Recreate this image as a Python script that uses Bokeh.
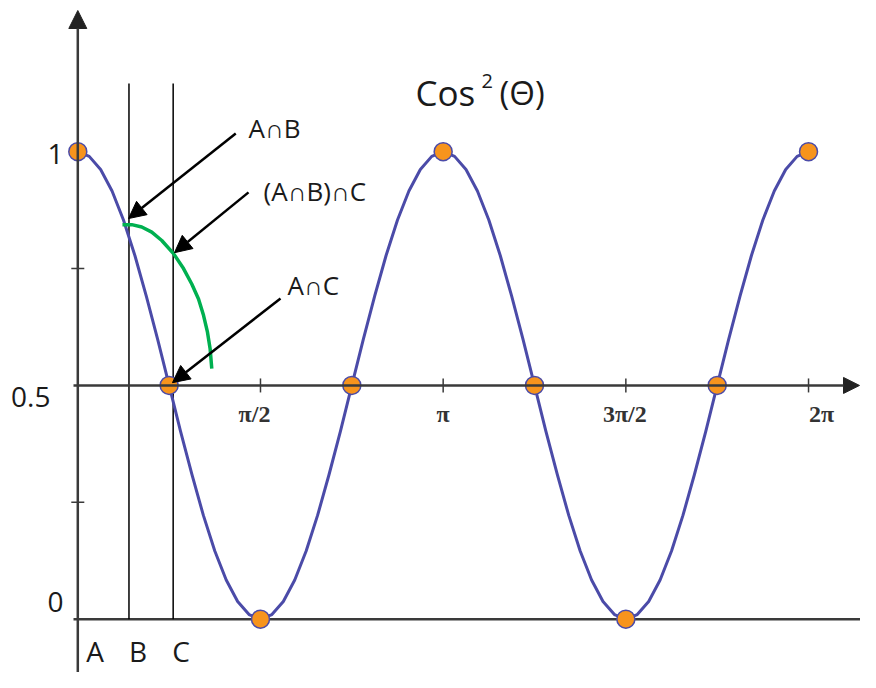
import numpy as np
from bokeh.plotting import figure
from bokeh.models import Arrow, NormalHead, Range1d, ColumnDataSource
from bokeh.core.properties import value
from bokeh.embed import file_html
from bokeh.resources import INLINE

# ---------------- data ----------------
# cos^2(theta) curve, values read at steps of pi/32 from 0 to 2*pi
curve_steps = list(range(65))
curve_vals = [1.000, 0.990, 0.962, 0.916, 0.854, 0.778, 0.691, 0.598, 0.500,
              0.402, 0.309, 0.222, 0.146, 0.084, 0.038, 0.010, 0.000,
              0.010, 0.038, 0.084, 0.146, 0.222, 0.309, 0.402, 0.500,
              0.598, 0.691, 0.778, 0.854, 0.916, 0.962, 0.990, 1.000,
              0.990, 0.962, 0.916, 0.854, 0.778, 0.691, 0.598, 0.500,
              0.402, 0.309, 0.222, 0.146, 0.084, 0.038, 0.010, 0.000,
              0.010, 0.038, 0.084, 0.146, 0.222, 0.309, 0.402, 0.500,
              0.598, 0.691, 0.778, 0.854, 0.916, 0.962, 0.990, 1.000]

# highlighted points at multiples of pi/4
key_steps = [0, 1, 2, 3, 4, 5, 6, 7, 8]
key_vals = [1.0, 0.5, 0.0, 0.5, 1.0, 0.5, 0.0, 0.5, 1.0]

# polarizer angles A, B, C (radians)
line_names = ["A", "B", "C"]
line_angles = [0.0, 0.44, 0.82]
line_label_x = [0.148, 0.518, 0.887]

# green arc (A∩B)∩C
arc_x = [0.384, 0.464, 0.550, 0.636, 0.722, 0.823, 0.909, 0.980, 1.038,
         1.081, 1.115, 1.138, 1.152]
arc_y = [0.844, 0.844, 0.839, 0.828, 0.810, 0.782, 0.750, 0.717, 0.685,
         0.650, 0.614, 0.578, 0.536]

# callouts
ann_labels = ["A∩B", "(A∩B)∩C", "A∩C"]
ann_target_x = [0.436, 0.831, 0.814]
ann_target_y = [0.857, 0.784, 0.506]
ann_start_x = [1.358, 1.468, 1.743]
ann_start_y = [1.039, 0.913, 0.686]
ann_text_x = [1.468, 1.597, 1.803]
ann_text_y = [1.050, 0.917, 0.714]

# x tick labels
xtick_labels = ["π/2", "π", "3π/2", "2π"]
xtick_steps = [2, 4, 6, 8]
xtick_dx = [-6, 0, -1, 13]

# y tick labels
ytick_labels = ["1", "0.5", "0"]
ytick_vals = [1.0, 0.5, 0.0]
ytick_label_y = [0.996, 0.476, 0.036]
ytick_label_x = [-0.123, -0.235, -0.123]
yminor_vals = [0.25, 0.75]

title_parts = ["Cos", "2", "(Θ)"]

# ---------------- layout ----------------
W, H = 860, 672
PX0, PXR = 77.3, 116.3      # pixel of theta=0, pixels per radian
PY0, PYU = 618.7, 467.5     # pixel of y=0, pixels per unit

def fx(px):
    return (px - PX0) / PXR

def fy(py):
    return (PY0 - py) / PYU

x_range = Range1d(fx(0), fx(W))
y_range = Range1d(fy(H), fy(0))

p = figure(width=W, height=H, x_range=x_range, y_range=y_range,
           output_backend="svg", toolbar_location=None, min_border=0,
           x_axis_location=None, y_axis_location=None)
p.grid.visible = False
p.outline_line_color = None
p.background_fill_color = "white"
p.border_fill_color = "white"

step = np.pi / 32
theta = np.array(curve_steps) * step
key_theta = np.array(key_steps) * np.pi / 4
xtick_theta = np.array(xtick_steps) * np.pi / 4

AX = "#3a3a3a"
BLUE = "#4b4ba8"
ORANGE = "#f7941d"
GREEN = "#00b050"

# bottom line (y = 0)
p.segment(x0=[fx(73)], y0=[0], x1=[fx(W)], y1=[0], line_color=AX, line_width=2.5)

# vertical lines B and C
p.segment(x0=line_angles[1:], y0=[0, 0], x1=line_angles[1:], y1=[fy(83)] * 2,
          line_color="black", line_width=1.5)

# axes with arrows
p.add_layout(Arrow(x_start=fx(73), y_start=0.5, x_end=fx(W - 1), y_end=0.5,
                   line_color=AX, line_width=2.5,
                   end=NormalHead(size=16, fill_color="#222", line_color="#222")))
p.add_layout(Arrow(x_start=0, y_start=fy(H), x_end=0, y_end=fy(10),
                   line_color=AX, line_width=2.5,
                   end=NormalHead(size=18, fill_color="#222", line_color="#222")))

# tick marks
p.scatter(x=xtick_theta, y=[0.5] * len(xtick_theta), marker="dash", angle=np.pi / 2,
          size=14, line_color=AX, line_width=1.5)
p.scatter(x=[0.0] * len(yminor_vals), y=yminor_vals, marker="dash",
          size=13, line_color=AX, line_width=1.5)

# curve
p.line(theta, curve_vals, line_color=BLUE, line_width=3, line_join="round")

# green arc
p.line(arc_x, arc_y, line_color=GREEN, line_width=3.5, line_join="round")

# callout arrows
src = ColumnDataSource(dict(xs=ann_start_x, ys=ann_start_y, xe=ann_target_x, ye=ann_target_y))
p.add_layout(Arrow(source=src, x_start="xs", y_start="ys", x_end="xe", y_end="ye",
                   line_color="black", line_width=2.5,
                   end=NormalHead(size=17, fill_color="black", line_color="black")))

# key points
p.scatter(key_theta, key_vals, size=18, fill_color=ORANGE, line_color=BLUE, line_width=1.5)

TXT = "#1a1a1a"
FONT = value("Open Sans")

p.text(x=ann_text_x, y=ann_text_y, text=ann_labels, text_font=FONT,
       text_font_size="26px", text_baseline="middle", text_align="left", text_color=TXT)

# title "Cos² (Θ)" with a real superscript
p.text(x=[fx(415), fx(481), fx(499)], y=[fy(92), fy(80), fy(92)], text=title_parts,
       text_font=FONT, text_font_size=["35px", "20px", "33px"],
       text_baseline="middle", text_align="left", text_color=TXT)

p.text(x=ytick_label_x, y=ytick_label_y, text=ytick_labels, text_font=FONT,
       text_font_size="28px", text_baseline="middle", text_align="right", text_color=TXT)

p.text(x=line_label_x, y=[fy(650)] * 3, text=line_names, text_font=FONT,
       text_font_size="28px", text_baseline="middle", text_align="center", text_color=TXT)

p.text(x=xtick_theta, y=[fy(413)] * 4, text=xtick_labels, x_offset=xtick_dx,
       text_font=value("Liberation Serif"), text_font_size="24px", text_font_style="bold",
       text_baseline="middle", text_align="center", text_color="#333333")

open("out.html", "w").write(file_html(p, INLINE))
